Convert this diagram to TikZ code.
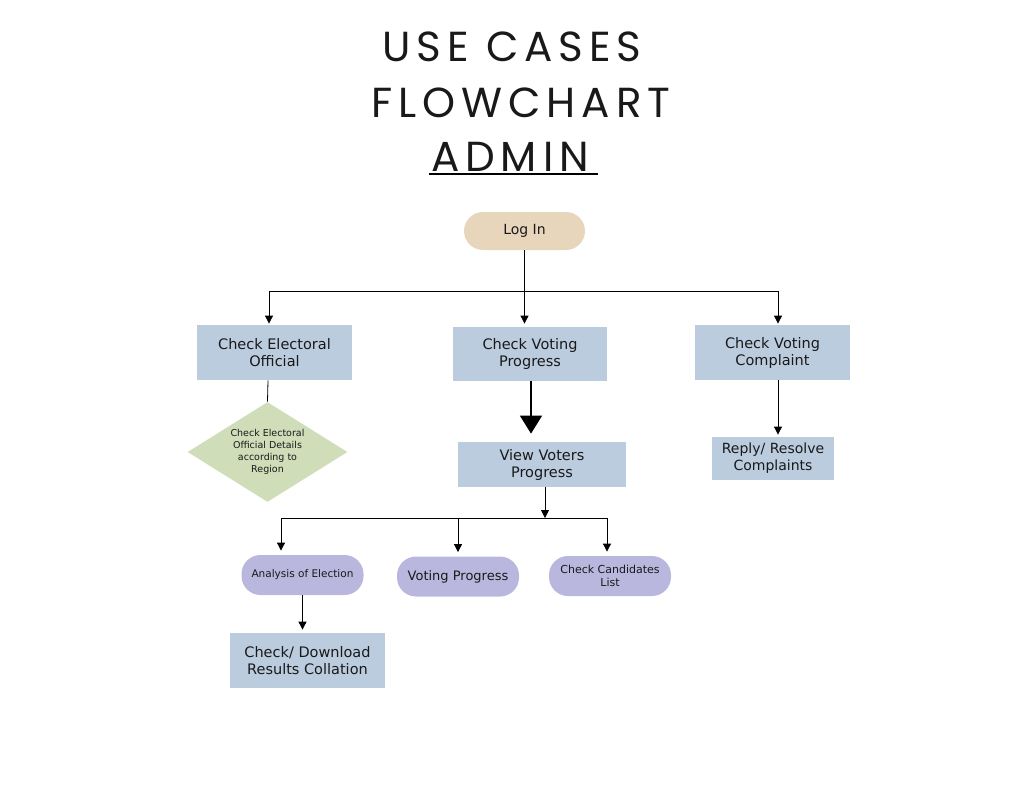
\documentclass[tikz,border=0pt]{standalone}
\usepackage{fontspec}
\setmainfont{DejaVu Sans}
\newfontfamily\titlefont[LetterSpace=14]{Poppins}
\usepackage{xcolor}
\usetikzlibrary{shapes.geometric,arrows.meta,calc,positioning}
\definecolor{boxblue}{HTML}{BBCCDF}
\definecolor{logtan}{HTML}{E8D6BC}
\definecolor{diagreen}{HTML}{CFDDB9}
\definecolor{pilllav}{HTML}{BAB7DE}

\begin{document}
\begin{tikzpicture}[x=1pt,y=-1pt,line width=0.8pt,>={Triangle[width=8pt,length=8pt]}]
	\tikzstyle{every node} = [align=center, inner sep=0pt, text=black!90]
	\tikzstyle{box} = [rectangle, fill=boxblue]
	\tikzstyle{pill} = [rectangle, rounded corners=19pt, fill=pilllav, minimum width=122pt, minimum height=40pt]
\useasboundingbox (0,0) rectangle (1026,801);
% title
\node[font=\titlefont\fontsize{42}{44}\selectfont] (t1) at (512,47) {USE CASES};
\node[font=\titlefont\fontsize{42}{44}\selectfont] (t2) at (521,103) {FLOWCHART};
\node[font=\titlefont\fontsize{42}{44}\selectfont] (t3) at (510,157) {ADMIN};
\path[draw, line width=1.5pt] (429,174) -- (598,174);
% nodes
\node[rectangle, rounded corners=19pt, fill=logtan, minimum width=121pt, minimum height=38pt, font=\fontsize{14}{16}\selectfont] (0) at (524.5,231) {\raisebox{-1.5pt}{Log In}};
\node[box, minimum width=155pt, minimum height=55pt, font=\fontsize{14.5}{17}\selectfont] (1) at (274.5,352.5) {Check Electoral\\Official};
\node[box, minimum width=154pt, minimum height=54pt, font=\fontsize{14.5}{17}\selectfont] (2) at (530,354) {Check Voting\\Progress};
\node[box, minimum width=155pt, minimum height=55pt, font=\fontsize{14.5}{17}\selectfont] (3) at (772.5,352.5) {Check Voting\\Complaint};
\node[diamond, fill=diagreen, aspect=1.6, minimum width=160pt, minimum height=100pt, font=\fontsize{9.5}{12}\selectfont] (4) at (267.5,452) {Check Electoral\\Official Details\\according to\\Region};
\node[box, minimum width=168pt, minimum height=45pt, font=\fontsize{14.5}{17}\selectfont] (5) at (542,464.5) {View Voters\\Progress};
\node[box, minimum width=122pt, minimum height=43pt, font=\fontsize{14}{17}\selectfont] (6) at (773,458.5) {Reply/ Resolve\\Complaints};
\node[pill, font=\fontsize{10.5}{13}\selectfont] (7) at (302.5,575) {Analysis of Election};
\node[pill, font=\fontsize{13}{15}\selectfont] (8) at (458,576.5) {Voting Progress};
\node[pill, font=\fontsize{11}{13.5}\selectfont] (9) at (610,576) {Check Candidates\\List};
\node[box, minimum width=155pt, minimum height=55pt, font=\fontsize{14.5}{17}\selectfont] (10) at (307.5,660.5) {Check/ Download\\Results Collation};
% connectors
\coordinate (j1) at (524.5,291);
\coordinate (j2) at (545,518);
	\path[draw] (0) -- (j1);
	\path[draw, ->] (j1) -| ([xshift=-5.5pt,yshift=1pt]1.north);
	\path[draw, ->] (j1) -- ([yshift=3pt]j1 |- 2.north);
	\path[draw, ->] (j1) -| ([xshift=5.5pt,yshift=1pt]3.north);
	\path[draw] ([xshift=-6.5pt]1.south) -- (4.north);
	\path[draw, line width=1.6pt, -{Triangle[width=22pt,length=18pt]}] ([xshift=1pt]2.south) -- ([xshift=1pt,yshift=8pt]2.south |- 5.north);
	\path[draw, ->] (5.south -| j2) -- (j2);
	\path[draw, ->] (j2) -| ([xshift=-21.5pt,yshift=4pt]7.north);
	\path[draw, ->] (j2 -| 8.north) -- ([yshift=4pt]8.north);
	\path[draw, ->] (j2) -| ([xshift=-3pt,yshift=4pt]9.north);
	\path[draw, ->] (7.south) -- ([yshift=3pt]7.south |- 10.north);
	\path[draw, ->] ([xshift=5.5pt]3.south) -- ([xshift=5.5pt,yshift=2pt]3.south |- 6.north);
 	\end{tikzpicture}
\end{document}
